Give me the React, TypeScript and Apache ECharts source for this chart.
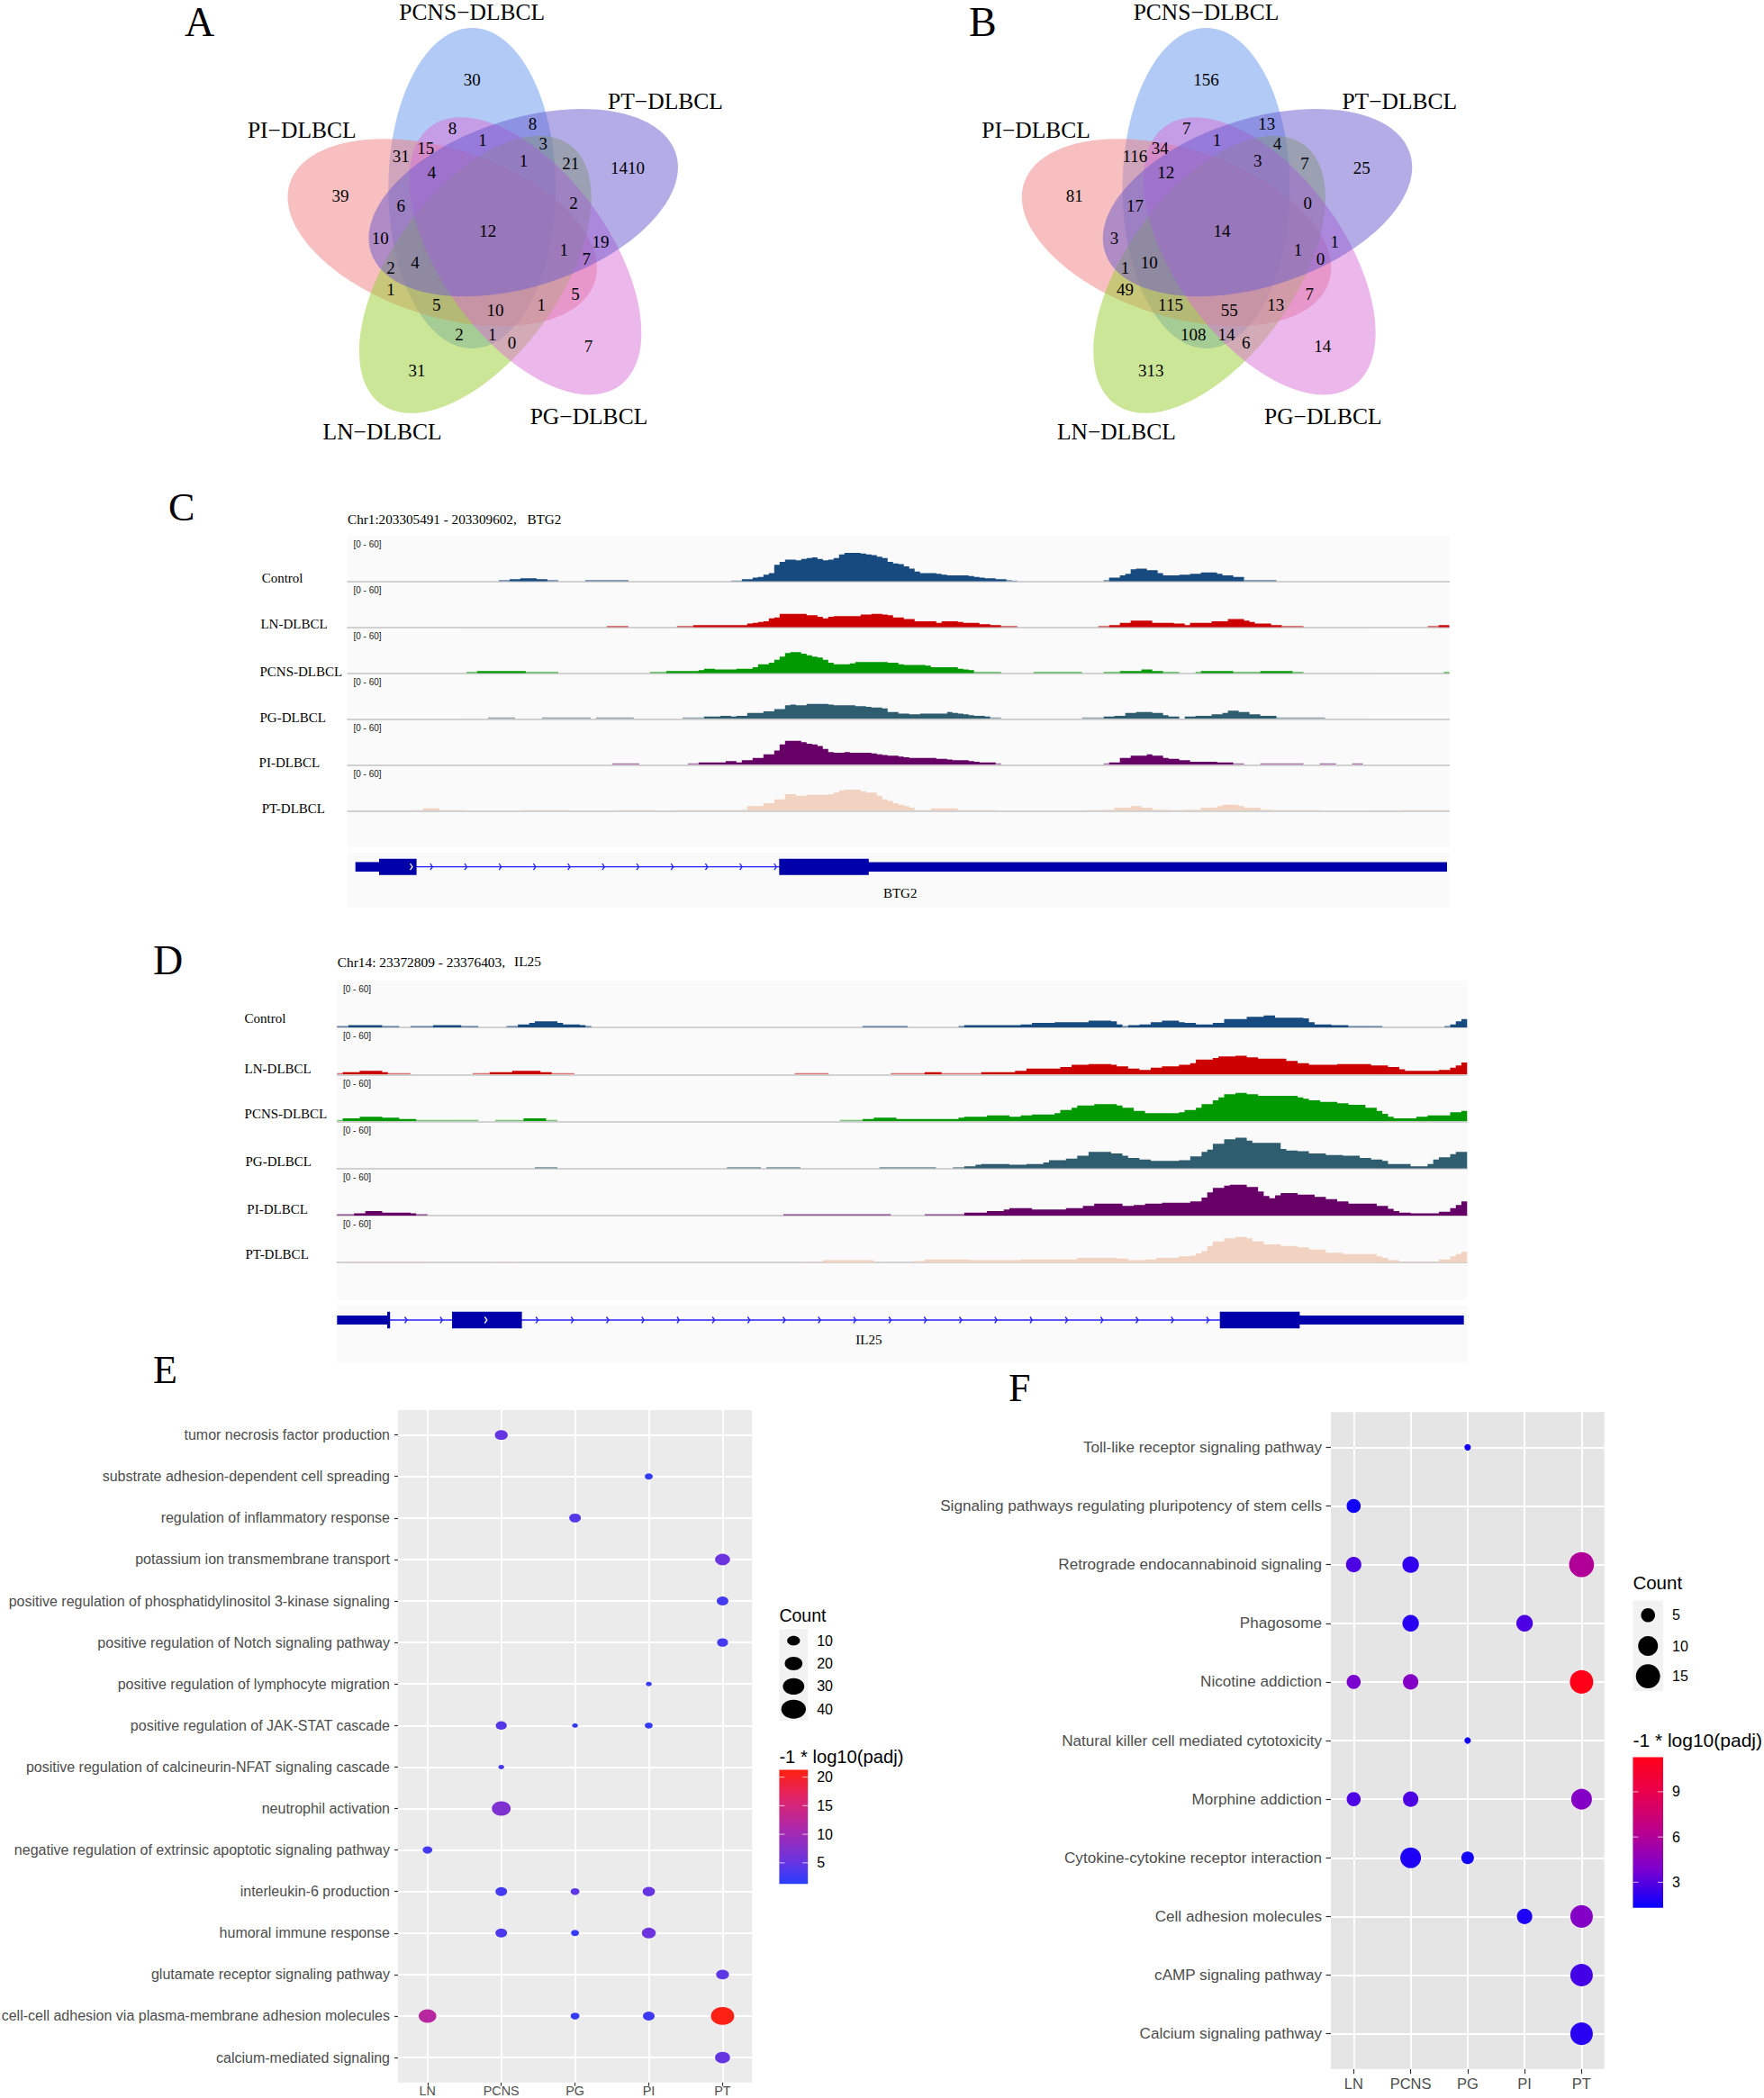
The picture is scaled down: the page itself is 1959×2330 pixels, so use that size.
import React, { useEffect, useRef } from "react";
import * as echarts from "echarts";

// ---------- Venn data ----------
const vennNames = ["PCNS−DLBCL", "PT−DLBCL", "PI−DLBCL", "PG−DLBCL", "LN−DLBCL"];
const vennValuesA = [30, 39, 1410, 7, 31, 8, 8, 1, 3, 1, 21, 31, 15, 4, 6, 2, 10, 12, 19, 1, 7, 4, 2, 1, 5, 5, 1, 10, 2, 1, 0];
const vennValuesB = [156, 81, 25, 14, 313, 7, 13, 1, 4, 3, 7, 116, 34, 12, 17, 0, 3, 14, 1, 1, 0, 10, 1, 49, 7, 115, 13, 55, 108, 14, 6];

// ---------- Coverage tracks: [fromBin, toBin, value] or [fromBin, [values...]] ----------
type Run = any[];
const trackNames = ["Control", "LN-DLBCL", "PCNS-DLBCL", "PG-DLBCL", "PI-DLBCL", "PT-DLBCL"];
const trackColors = ["#174a7e", "#cc0000", "#009900", "#2f5d70", "#660066", "#f2d2c0"];

const btg2Control: Run[] = [[28,29,2],[30,31,3],[32,34,4],[35,36,3],[37,38,2],[44,51,2],[71,72,1],[73,[3,3,5,6,9,11,22,26,29]],[82,[29,28,30,31,32,30,28,29,31,36,38,38,38,37,36,35,33,31,26,24,23,20,17,13,11,11,11,10,9,8,8,8,8,7,6,5,4,4,3,3,2,1]],[140,[2,5,5,8,10,16,17,17,15,15,11,8,8,8,9,9,10,10,12,12,12,10,8,8,6,6]],[166,171,2]];
const btg2LN: Run[] = [[48,51,2],[61,63,2],[64,72,3],[73,[3,5,6,7,8,12,13,18,18]],[82,[18,18,18,16,16,14,12,14,15,15,15,15,15,17,17,18,18,17,16,13,13,11,11,8,8,8,8,6,8,8,8,7,6,6,6,4,4,3,3,2,2,2]],[139,140,2],[141,142,3],[143,144,6],[145,148,9],[149,152,6],[153,154,5],[155,155,3],[156,159,6],[160,162,8],[163,165,11],[166,166,9],[167,167,7],[168,170,5],[171,172,3],[173,176,2],[200,201,2],[202,203,3]];
const btg2PCNS: Run[] = [[22,23,2],[24,32,3],[33,38,2],[56,58,2],[59,64,3],[65,65,4],[66,67,6],[68,71,5],[72,74,6],[75,75,8],[76,77,12],[78,78,14],[79,79,18],[80,80,22],[81,81,27],[82,[28,28,26,24,22,21,18,14,12,12,12,13,15,15,15,15,15,15,14,14,12,11,11,11,11,10,8,8,8,8,8,6,5,4]],[116,120,2],[127,135,2],[140,142,2],[143,146,3],[147,148,5],[149,150,3],[151,153,2],[157,157,2],[158,163,3],[164,168,2],[169,174,3],[175,176,2],[203,203,2]];
const btg2PG: Run[] = [[26,30,2],[36,44,2],[46,52,2],[62,65,2],[66,68,3],[69,70,4],[71,71,3],[72,73,4],[74,76,8],[77,78,10],[79,80,13],[81,81,18],[82,[19,18,18,20,20,20,20,19,18,18,18,18,17,17,16,15,15,14,9,9,7,7,6,6,7,7,7,7,7,9,8,7,6,5,4,4,3,2,2]],[136,139,2],[140,141,3],[142,143,4],[144,145,8],[146,148,9],[149,150,8],[151,151,5],[152,153,3],[155,156,3],[157,159,4],[160,161,6],[162,162,8],[163,164,11],[165,166,9],[167,168,6],[169,171,4],[172,180,2]];
const btg2PI: Run[] = [[49,53,2],[63,64,2],[65,69,3],[70,71,5],[72,72,3],[73,74,6],[75,76,9],[77,78,14],[79,79,19],[80,80,27],[81,81,32],[82,[32,32,30,28,27,25,21,17,16,16,17,16,16,16,16,15,14,13,12,12,11,10,9,9,9,9,9,8,8,7,6,6,6,5,4,3,3,3,2]],[140,140,2],[141,142,3],[143,144,9],[145,147,12],[148,148,14],[149,150,12],[151,151,9],[152,153,8],[154,155,6],[156,160,4],[161,163,3],[164,165,2],[169,176,2],[180,182,2],[186,187,2]];
const btg2PT: Run[] = [[12,13,1],[14,16,3],[17,21,1],[32,40,1],[50,56,1],[61,72,1],[73,73,2],[74,76,6],[77,78,10],[79,80,15],[81,81,22],[82,[22,20,20,21,21,21,21,22,24,27,28,28,28,26,24,24,20,15,13,10,8,6,4]],[105,107,1],[108,112,3],[113,119,1],[137,139,1],[140,141,2],[142,144,4],[145,146,6],[147,148,4],[149,151,2],[152,154,1],[155,157,2],[158,160,4],[161,161,6],[162,164,8],[165,165,6],[166,168,4],[169,170,2],[171,179,1],[195,203,1]];

const il25Control: Run[] = [[0,1,2],[2,7,3],[8,10,2],[13,16,2],[17,21,3],[22,24,2],[30,31,2],[32,33,4],[34,34,6],[35,38,8],[39,39,6],[40,42,4],[43,43,3],[44,44,2],[93,100,2],[110,110,2],[111,120,3],[121,122,4],[123,126,6],[127,132,7],[133,136,9],[137,137,8],[138,138,4],[139,139,2],[140,141,3],[142,143,4],[144,145,7],[146,148,9],[149,149,7],[150,151,6],[152,154,4],[155,156,6],[157,160,11],[161,163,14],[164,165,16],[166,170,13],[171,171,12],[172,172,7],[173,175,4],[176,178,3],[179,184,2],[196,196,2],[197,197,4],[198,198,8],[199,199,11]];
const il25LN: Run[] = [[0,0,2],[1,3,3],[4,7,5],[8,8,3],[9,12,2],[24,26,2],[27,30,3],[31,35,5],[36,37,3],[38,41,2],[81,86,2],[98,103,2],[104,106,3],[107,113,2],[114,119,3],[120,121,5],[122,127,8],[128,129,10],[130,132,13],[133,136,14],[137,137,13],[138,139,11],[140,141,8],[142,143,6],[144,145,9],[146,148,11],[149,150,13],[151,151,15],[152,154,20],[155,155,22],[156,158,24],[159,160,25],[161,162,23],[163,167,21],[168,169,18],[170,171,15],[172,176,13],[177,182,14],[183,185,12],[186,187,10],[188,188,7],[189,194,5],[195,196,6],[197,197,9],[198,198,12],[199,199,16]];
const il25PCNS: Run[] = [[0,0,2],[1,3,4],[4,7,6],[8,10,5],[11,13,3],[14,24,2],[28,32,2],[33,36,4],[37,38,2],[89,92,2],[93,94,3],[95,98,5],[99,109,3],[110,110,5],[111,114,6],[115,118,8],[119,120,6],[121,122,8],[123,126,9],[127,127,11],[128,129,15],[130,130,18],[131,133,21],[134,137,23],[138,138,21],[139,140,18],[141,142,14],[143,148,11],[149,149,12],[150,151,15],[152,152,18],[153,154,23],[155,155,28],[156,156,32],[157,158,36],[159,160,38],[161,162,36],[163,164,34],[165,169,34],[170,170,32],[171,171,30],[172,173,28],[174,176,26],[177,178,24],[179,181,22],[182,183,18],[184,184,14],[185,185,10],[186,186,6],[187,190,4],[191,192,6],[193,196,8],[197,198,12],[199,199,14]];
const il25PG: Run[] = [[35,38,2],[69,74,2],[76,81,2],[96,105,2],[109,110,2],[111,112,3],[113,113,5],[114,118,6],[119,121,5],[122,124,6],[125,125,8],[126,128,11],[129,130,13],[131,132,17],[133,136,22],[137,138,20],[139,139,17],[140,141,14],[142,143,12],[144,148,10],[149,150,11],[151,152,16],[153,153,22],[154,154,25],[155,156,33],[157,158,39],[159,160,41],[161,161,37],[162,166,34],[167,167,26],[168,169,24],[170,171,23],[172,174,20],[175,177,18],[178,180,17],[181,182,14],[183,184,12],[185,185,10],[186,189,6],[190,192,3],[193,193,6],[194,194,12],[195,196,15],[197,197,19],[198,199,22]];
const il25PI: Run[] = [[0,2,2],[3,4,3],[5,7,6],[8,12,4],[13,13,3],[14,15,2],[79,97,2],[104,110,2],[111,114,4],[115,117,6],[118,118,8],[119,122,10],[123,128,8],[129,131,10],[132,133,13],[134,138,16],[139,140,13],[141,142,14],[143,145,16],[146,150,17],[151,152,19],[153,153,24],[154,154,31],[155,156,37],[157,157,40],[158,160,41],[161,162,38],[163,163,32],[164,164,26],[165,165,23],[166,166,27],[167,169,30],[170,172,28],[173,174,25],[175,176,22],[177,178,19],[179,183,16],[184,185,13],[186,186,9],[187,187,6],[188,189,4],[190,194,3],[195,196,5],[197,197,10],[198,198,14],[199,199,19]];
const il25PT: Run[] = [[2,15,1],[28,31,1],[82,85,1],[86,94,3],[95,96,1],[102,103,2],[104,111,4],[112,120,3],[121,130,4],[131,137,6],[138,139,5],[140,142,3],[143,144,4],[145,148,6],[149,150,8],[151,151,9],[152,152,12],[153,153,15],[154,154,22],[155,156,28],[157,158,32],[159,160,34],[161,161,32],[162,163,28],[164,166,24],[167,169,22],[170,171,20],[172,174,17],[175,177,13],[178,183,11],[184,184,8],[185,185,6],[186,187,3],[188,194,1],[195,196,4],[197,197,8],[198,198,11],[199,199,14]];

// ---------- Bubble plots ----------
const groups = ["LN", "PCNS", "PG", "PI", "PT"];
const termsE = [
  "tumor necrosis factor production",
  "substrate adhesion-dependent cell spreading",
  "regulation of inflammatory response",
  "potassium ion transmembrane transport",
  "positive regulation of phosphatidylinositol 3-kinase signaling",
  "positive regulation of Notch signaling pathway",
  "positive regulation of lymphocyte migration",
  "positive regulation of JAK-STAT cascade",
  "positive regulation of calcineurin-NFAT signaling cascade",
  "neutrophil activation",
  "negative regulation of extrinsic apoptotic signaling pathway",
  "interleukin-6 production",
  "humoral immune response",
  "glutamate receptor signaling pathway",
  "cell-cell adhesion via plasma-membrane adhesion molecules",
  "calcium-mediated signaling",
];
// [group index, term index, Count, -1*log10(padj)]
const bubblesE = [
  [1,0,10,5],[3,1,3,2],[2,2,8,4],[4,3,14,5.5],[4,4,8,3],[4,5,7,3],[3,6,1,2],
  [1,7,7,4],[2,7,1,2],[3,7,3,2],[1,8,1,3],[1,9,23,7],[0,10,5,3],
  [1,11,8,3],[2,11,4,4.5],[3,11,9,5],[1,12,8,3.5],[2,12,3,2],[3,12,12,5.5],
  [4,13,10,4.5],[0,14,20,12],[2,14,4,2],[3,14,8,2.5],[4,14,36,21],[4,15,14,5],
];
const termsF = [
  "Toll-like receptor signaling pathway",
  "Signaling pathways regulating pluripotency of stem cells",
  "Retrograde endocannabinoid signaling",
  "Phagosome",
  "Nicotine addiction",
  "Natural killer cell mediated cytotoxicity",
  "Morphine addiction",
  "Cytokine-cytokine receptor interaction",
  "Cell adhesion molecules",
  "cAMP signaling pathway",
  "Calcium signaling pathway",
];
const bubblesF = [
  [2,0,1,1.5],[0,1,5,1.5],[0,2,6,2.8],[1,2,7,2.2],[4,2,16,6],[1,3,7,2],[3,3,7,2.8],
  [0,4,5,3.8],[1,4,6,4.2],[4,4,14,11.3],[2,5,1,1.5],[0,6,5,2.8],[1,6,6,2.8],[4,6,11,4.2],
  [1,7,11,1.8],[2,7,4,1.5],[3,8,6,1.8],[4,8,13,4.2],[4,9,13,2.6],[4,10,13,2],
];
const countLegendE = [10, 20, 30, 40];
const countLegendF = [5, 10, 15];
const colorTicksE = [20, 15, 10, 5];
const colorTicksF = [9, 6, 3];
const rangeE = [1.3, 21.3];
const rangeF = [1.3, 11.3];
const stopsE: [number, string][] = [[0, "#2a3dff"], [0.2, "#6a34e0"], [0.5, "#b028a8"], [0.75, "#e0246a"], [1, "#ff2010"]];
const stopsF: [number, string][] = [[0, "#0800ff"], [0.25, "#7a00d0"], [0.5, "#b80090"], [0.75, "#e70050"], [1, "#ff0018"]];

// ---------- helpers ----------
const SERIF = "'Liberation Serif', 'Times New Roman', serif";
const SANS = "'Liberation Sans', Arial, sans-serif";

function decode(runs: Run[], n: number) {
  const v = new Array(n).fill(0);
  for (const r of runs) {
    if (Array.isArray(r[1])) r[1].forEach((x: number, k: number) => (v[r[0] + k] = x));
    else for (let i = r[0]; i <= r[1]; i++) v[i] = r[2];
  }
  const out: number[][] = v.map((y: number, i: number) => [i, y]);
  out.push([n, v[n - 1]]);
  return out;
}
function hex(c: string) {
  return [1, 3, 5].map((i) => parseInt(c.slice(i, i + 2), 16));
}
function colorAt(v: number, range: number[], stops: [number, string][]) {
  const t = Math.max(0, Math.min(1, (v - range[0]) / (range[1] - range[0])));
  for (let i = 1; i < stops.length; i++) {
    if (t <= stops[i][0]) {
      const f = (t - stops[i - 1][0]) / (stops[i][0] - stops[i - 1][0]);
      const a = hex(stops[i - 1][1]);
      const b = hex(stops[i][1]);
      return `rgb(${a.map((x, k) => Math.round(x + (b[k] - x) * f)).join(",")})`;
    }
  }
  return stops[stops.length - 1][1];
}
const sizeE = (c: number) => {
  const w = Math.sqrt(484 + (c - 10) * 42.7) / 1.537;
  return [w, w / 1.31];
};
const sizeF = (c: number) => {
  const w = Math.sqrt(10 + 134 * c) / 1.67;
  return [w, w];
};
function txt(text: string, x: number, y: number, size: number, family = SERIF, fill = "#000", align = "left") {
  return {
    type: "text", x, y, silent: true,
    style: { text, fontSize: size, fontFamily: family, fill, textAlign: align, align, textVerticalAlign: "middle", verticalAlign: "middle" },
  };
}

// venn geometry
const vennZoomPos = [[820,265],[450,653],[1257,560],[1147,1153],[665,1235],[765,427],[990,413],[850,466],[1020,478],[965,536],[1097,543],[620,519],[690,494],[707,574],[620,685],[1105,675],[562,793],[864,770],[1181,804],[1078,833],[1141,862],[660,875],[592,892],[592,964],[1110,980],[720,1015],[1015,1015],[885,1034],[784,1113],[877,1113],[932,1142]];
const vennLabelPos = [[820,41],[1363,338],[342,432],[1148,1387],[568,1438]];
const vennPetals = [
  { rot: 0, color: "#6495ed" },
  { rot: 288, color: "#f08080" },
  { rot: 216, color: "#9acd32" },
  { rot: 144, color: "#da70d6" },
  { rot: 72, color: "#6a5acd" },
];
function vennGraphics(dx: number, values: number[]) {
  const cx = 541.6 + dx, cy = 256.3;
  const out: any[] = [];
  for (const p of vennPetals) {
    const th = (p.rot * Math.PI) / 180;
    const ox = -17.4, oy = -47.3;
    out.push({
      type: "ellipse", silent: true,
      x: cx + ox * Math.cos(th) - oy * Math.sin(th),
      y: cy + ox * Math.sin(th) + oy * Math.cos(th),
      rotation: -th,
      shape: { cx: 0, cy: 0, rx: 92.9, ry: 178 },
      style: { fill: p.color, opacity: 0.5 },
    });
  }
  values.forEach((v, i) => {
    const [zx, zy] = vennZoomPos[i];
    out.push(txt(String(v), 200 + zx / 2.529 + dx, zy / 3, 19, SERIF, "#000", "center"));
  });
  vennNames.forEach((n, i) => {
    const [zx, zy] = vennLabelPos[i];
    out.push(txt(n, 200 + zx / 2.529 + dx, zy / 3, 25.5, SERIF, "#000", "center"));
  });
  return out;
}
function chevrons(xs: number[], y: number, color: string) {
  return xs.map((x) => ({
    type: "polyline", silent: true,
    shape: { points: [[x - 1.5, y - 3.5], [x + 1, y], [x - 1.5, y + 3.5]] },
    style: { stroke: color, lineWidth: 1.3, fill: "none" },
  }));
}

export default function App() {
  const ref = useRef<HTMLDivElement>(null);
  useEffect(() => {
    const chart = echarts.init(ref.current!, null, { renderer: "svg" });

    const grids: any[] = [];
    const xAxes: any[] = [];
    const yAxes: any[] = [];
    const series: any[] = [];
    const addTrack = (runs: Run[], color: string, left: number, width: number, base: number, n: number) => {
      const k = grids.length;
      grids.push({ left, width, top: base - 50, height: 50, outerBoundsMode: "none" });
      xAxes.push({
        type: "value", gridIndex: k, min: 0, max: n, show: true,
        axisLine: { show: true, onZero: false, lineStyle: { color: "#c4c4c4", width: 1.5 } },
        axisTick: { show: false }, axisLabel: { show: false }, splitLine: { show: false },
      });
      yAxes.push({ type: "value", gridIndex: k, min: 0, max: 60, show: false, splitLine: { show: false } });
      const data = decode(runs, n);
      // very low coverage is a sub-pixel sliver in the browser capture, so it reads paler
      series.push({
        type: "line", xAxisIndex: k, yAxisIndex: k, step: "end", symbol: "none", silent: true,
        data: data.map(([x, y]) => [x, y <= 2 ? y : 0]), lineStyle: { width: 0 }, areaStyle: { color, opacity: 0.55 }, itemStyle: { color },
      });
      series.push({
        type: "line", xAxisIndex: k, yAxisIndex: k, step: "end", symbol: "none", silent: true,
        data: data.map(([x, y]) => [x, y > 2 ? y : 0]), lineStyle: { width: 0 }, areaStyle: { color, opacity: 1 }, itemStyle: { color },
      });
    };
    const basesC = [645.7, 696.7, 747.7, 798.3, 849.3, 900.3];
    const basesD = [1141, 1193.3, 1245.3, 1297.7, 1350, 1402];
    [btg2Control, btg2LN, btg2PCNS, btg2PG, btg2PI, btg2PT].forEach((r, i) => addTrack(r, trackColors[i], 386, 1223.5, basesC[i], 204));
    [il25Control, il25LN, il25PCNS, il25PG, il25PI, il25PT].forEach((r, i) => addTrack(r, trackColors[i], 374.3, 1255, basesD[i], 200));

    const addBubble = (o: any) => {
      const k = grids.length;
      grids.push({ left: o.left, top: o.top, width: o.width, height: o.height, show: true, backgroundColor: o.bg, borderWidth: 0, outerBoundsMode: "none" });
      xAxes.push({
        type: "value", gridIndex: k, min: -0.4, max: 4.4, position: "bottom",
        axisLine: { show: false, onZero: false }, splitLine: { show: false },
        axisTick: { show: true, length: o.tick, customValues: [0, 1, 2, 3, 4], lineStyle: { color: "#333", width: 1.2 } },
        axisLabel: { customValues: [0, 1, 2, 3, 4], formatter: (v: number) => groups[v] ?? "", fontSize: o.xFont, fontFamily: SANS, color: "#4d4d4d", margin: o.xMargin },
      });
      const rows = o.terms.map((_: string, i: number) => i);
      yAxes.push({
        type: "value", gridIndex: k, min: -0.6, max: o.terms.length - 0.4, inverse: true, position: "left",
        axisLine: { show: false, onZero: false }, splitLine: { show: false },
        axisTick: { show: true, length: o.tick, customValues: rows, lineStyle: { color: "#333", width: 1.2 } },
        axisLabel: { customValues: rows, formatter: (v: number) => o.terms[v] ?? "", fontSize: o.yFont, fontFamily: SANS, color: "#4d4d4d", margin: o.yMargin },
      });
      series.push({
        type: "scatter", xAxisIndex: k, yAxisIndex: k, silent: true, z: 3,
        data: o.data,
        symbolSize: (d: number[]) => o.size(d[2]),
        itemStyle: { opacity: 1, color: (p: any) => colorAt(p.data[3], o.range, o.stops) },
        markLine: {
          z: 1, silent: true, symbol: "none", animation: false, label: { show: false },
          lineStyle: { color: "#fff", width: 1.8, type: "solid" },
          data: [...[0, 1, 2, 3, 4].map((x) => ({ xAxis: x })), ...rows.map((y: number) => ({ yAxis: y }))],
        },
      });
    };
    addBubble({ left: 442, top: 1566, width: 393.2, height: 746.7, bg: "#ebebeb", tick: 4, xFont: 14.4, yFont: 16, xMargin: 2, yMargin: 9, terms: termsE, data: bubblesE, size: sizeE, range: rangeE, stops: stopsE });
    addBubble({ left: 1478, top: 1568.3, width: 303.7, height: 729.4, bg: "#e5e5e5", tick: 5.5, xFont: 16.5, yFont: 17.1, xMargin: 8, yMargin: 10, terms: termsF, data: bubblesF, size: sizeF, range: rangeF, stops: stopsF });

    const g: any[] = [];
    // panel letters
    g.push(txt("A", 205, 24, 46), txt("B", 1076, 24, 46), txt("C", 187, 563, 44), txt("D", 170, 1066, 46), txt("E", 170, 1521, 44), txt("F", 1120, 1541, 44));
    // venn
    g.push(...vennGraphics(0, vennValuesA), ...vennGraphics(815.3, vennValuesB));

    // panel C backgrounds
    g.push({ type: "rect", silent: true, shape: { x: 386, y: 595, width: 1223.5, height: 346 }, style: { fill: "#fafafa" } });
    g.push({ type: "rect", silent: true, shape: { x: 386, y: 947.3, width: 1223.5, height: 60.4 }, style: { fill: "#fafafa" } });
    g.push(txt("Chr1:203305491 - 203309602,", 386, 576, 15.2), txt("BTG2", 585.4, 576, 15.2));
    const labelC = [[290.7, 641.7], [289.4, 692.7], [288.5, 746], [288.5, 796.7], [287.6, 847], [290.7, 898.3]];
    trackNames.forEach((n, i) => g.push(txt(n, labelC[i][0], labelC[i][1], 15)));
    [604.7, 655.3, 706.3, 757, 808, 859].forEach((y) => g.push(txt("[0 - 60]", 392.5, y, 10, SANS, "#222")));
    // BTG2 gene model
    const geneBlue = "#0000aa", intron = "#2222ff";
    const yC = 962.7;
    g.push({ type: "line", silent: true, shape: { x1: 462, y1: yC, x2: 866, y2: yC }, style: { stroke: intron, lineWidth: 1.3 } });
    g.push({ type: "rect", silent: true, shape: { x: 394.7, y: yC - 5.3, width: 27, height: 10.6 }, style: { fill: geneBlue } });
    g.push({ type: "rect", silent: true, shape: { x: 421, y: yC - 9, width: 41.6, height: 18 }, style: { fill: geneBlue } });
    g.push({ type: "rect", silent: true, shape: { x: 865.3, y: yC - 9, width: 99.5, height: 18 }, style: { fill: geneBlue } });
    g.push({ type: "rect", silent: true, shape: { x: 964, y: yC - 5.3, width: 643, height: 10.6 }, style: { fill: geneBlue } });
    g.push(...chevrons([457], yC, "#fff"));
    g.push(...chevrons(Array.from({ length: 11 }, (_, i) => 479.3 + i * 38.2), yC, intron));
    g.push(txt("BTG2", 999.7, 991.7, 15, SERIF, "#000", "center"));

    // panel D backgrounds
    g.push({ type: "rect", silent: true, shape: { x: 374.3, y: 1089.3, width: 1255, height: 354.7 }, style: { fill: "#fafafa" } });
    g.push({ type: "rect", silent: true, shape: { x: 374.3, y: 1450, width: 1255, height: 64.3 }, style: { fill: "#fafafa" } });
    g.push(txt("Chr14: 23372809 - 23376403,", 374.7, 1068.3, 15.4), txt("IL25", 571, 1067.7, 15.4));
    const labelD = [[271.6, 1130.7], [271.6, 1186.7], [271.6, 1236.7], [272.5, 1290.3], [274.3, 1343], [272.5, 1393.3]];
    trackNames.forEach((n, i) => g.push(txt(n, labelD[i][0], labelD[i][1], 15)));
    [1098.7, 1150.7, 1203, 1255, 1307.3, 1359.3].forEach((y) => g.push(txt("[0 - 60]", 381, y, 10, SANS, "#222")));
    const yD = 1466;
    g.push({ type: "line", silent: true, shape: { x1: 432, y1: yD, x2: 1356, y2: yD }, style: { stroke: intron, lineWidth: 1.3 } });
    g.push({ type: "rect", silent: true, shape: { x: 374.3, y: yD - 5, width: 56, height: 10 }, style: { fill: geneBlue } });
    g.push({ type: "rect", silent: true, shape: { x: 430, y: yD - 9.2, width: 3.2, height: 18.4 }, style: { fill: geneBlue } });
    g.push({ type: "rect", silent: true, shape: { x: 502, y: yD - 9.2, width: 77.6, height: 18.4 }, style: { fill: geneBlue } });
    g.push({ type: "rect", silent: true, shape: { x: 1354.7, y: yD - 9.2, width: 88.7, height: 18.4 }, style: { fill: geneBlue } });
    g.push({ type: "rect", silent: true, shape: { x: 1443, y: yD - 5, width: 182.7, height: 10 }, style: { fill: geneBlue } });
    g.push(...chevrons([539.8], yD, "#fff"));
    g.push(...chevrons([451, 490.4], yD, intron));
    g.push(...chevrons(Array.from({ length: 20 }, (_, i) => 596.6 + i * 39.2), yD, intron));
    g.push(txt("IL25", 964.8, 1488.3, 15, SERIF, "#000", "center"));

    // legends
    const legend = (o: any) => {
      g.push(txt("Count", o.x, o.countY, o.titleFont, SANS, "#000"));
      g.push({ type: "rect", silent: true, shape: { x: o.x, y: o.keyTop, width: o.w, height: o.keyH }, style: { fill: "#f2f2f2" } });
      o.counts.forEach((c: number, i: number) => {
        const [w, h] = o.size(c);
        g.push({ type: "ellipse", silent: true, shape: { cx: o.x + o.w / 2, cy: o.keyYs[i], rx: w / 2, ry: h / 2 }, style: { fill: "#000" } });
        g.push(txt(String(c), o.x + o.w + 10, o.keyYs[i], 16, SANS, "#000"));
      });
      g.push(txt("-1 * log10(padj)", o.x, o.barTitleY, o.barTitleFont, SANS, "#000"));
      g.push({
        type: "rect", silent: true, shape: { x: o.x, y: o.barTop, width: o.w, height: o.barH },
        style: { fill: new echarts.graphic.LinearGradient(0, 1, 0, 0, o.stops.map((s: [number, string]) => ({ offset: s[0], color: s[1] }))) },
      });
      o.ticks.forEach((t: number) => {
        const y = o.barTop + o.barH * (o.range[1] - t) / (o.range[1] - o.range[0]);
        g.push({ type: "line", silent: true, shape: { x1: o.x, y1: y, x2: o.x + 6, y2: y }, style: { stroke: "rgba(255,255,255,.7)", lineWidth: 1 } });
        g.push({ type: "line", silent: true, shape: { x1: o.x + o.w - 6, y1: y, x2: o.x + o.w, y2: y }, style: { stroke: "rgba(255,255,255,.7)", lineWidth: 1 } });
        g.push(txt(String(t), o.x + o.w + 10, y, 16, SANS, "#000"));
      });
    };
    legend({ x: 865.4, w: 31.8, countY: 1794.3, titleFont: 19.5, keyTop: 1809.2, keyH: 101.5, keyYs: [1822.1, 1847.5, 1872.9, 1898.3], counts: countLegendE, size: sizeE, barTitleY: 1950.5, barTitleFont: 20.2, barTop: 1965.4, barH: 126.9, ticks: colorTicksE, range: rangeE, stops: stopsE });
    legend({ x: 1813.4, w: 33.6, countY: 1757, titleFont: 20.5, keyTop: 1777.4, keyH: 100.6, keyYs: [1793.8, 1828, 1861.6], counts: countLegendF, size: sizeF, barTitleY: 1932, barTitleFont: 21, barTop: 1951.4, barH: 167.4, ticks: colorTicksF, range: rangeF, stops: stopsF });

    chart.setOption({
      animation: false,
      backgroundColor: "#fff",
      grid: grids, xAxis: xAxes, yAxis: yAxes, series,
      graphic: { elements: g },
    });
    return () => chart.dispose();
  }, []);
  return <div ref={ref} style={{ position: "absolute", left: 0, top: 0, width: 1959, height: 2330 }} />;
}
